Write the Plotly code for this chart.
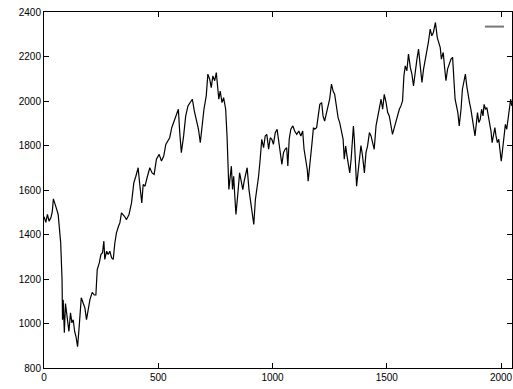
import plotly.graph_objects as go

# Series (index, value)
x_vals = [0, 8, 15, 22, 30, 36, 41, 48, 55, 62, 66, 73, 79, 81, 84, 89, 94, 99, 104, 109,
          116, 122, 128, 134, 140, 147, 154, 163, 172, 179, 186, 195, 201, 211, 220, 227, 233, 242, 249, 256,
          262, 266, 274, 281, 288, 296, 303, 310, 317, 326, 332, 339, 346,
          352, 361, 372, 383, 393, 402, 412, 419, 428, 434, 442, 451, 463, 473, 482, 492, 504, 514, 524,
          533, 543, 550, 559, 569, 579, 588, 594, 601, 611, 620, 630, 640, 649, 658, 667, 676, 684, 693, 700,
          710, 717, 725, 732, 739, 747, 754, 761, 765, 771, 779, 786, 795, 801, 805, 809, 815, 820, 825, 830,
          835, 840, 846, 852, 856, 863, 870, 876, 882, 889, 897, 903, 908, 914, 918, 925, 932, 939, 946, 953,
          961, 968, 975, 983, 990, 997, 1004, 1012, 1020, 1027, 1035, 1041, 1048,
          1055, 1062, 1067, 1073, 1080, 1089, 1097, 1106, 1115, 1124, 1132, 1138, 1146, 1152, 1156, 1162, 1167,
          1173, 1179, 1185, 1193, 1201, 1207, 1215, 1221, 1228, 1236, 1243, 1250, 1258, 1265, 1272, 1280, 1287,
          1294, 1301, 1309, 1314, 1320, 1326, 1332, 1338, 1344, 1349, 1354, 1358, 1364, 1368, 1374, 1380, 1387,
          1394, 1402, 1409, 1416,
          1424, 1431, 1438, 1445, 1453, 1460, 1467, 1475, 1482, 1489, 1497, 1504, 1511, 1518, 1525, 1533, 1540,
          1547, 1555, 1562, 1569, 1575, 1581, 1588, 1595, 1603, 1610, 1617, 1624, 1632, 1639, 1646, 1654, 1661,
          1668, 1675, 1682, 1690, 1697, 1704, 1713, 1721, 1726, 1734, 1739, 1747, 1753, 1759, 1766, 1773, 1781,
          1788, 1794, 1799, 1805, 1811, 1817, 1825, 1831, 1838, 1844, 1850, 1856, 1862, 1868, 1874, 1880, 1886,
          1891, 1897, 1903, 1909, 1915, 1921, 1926, 1932, 1938, 1944, 1950, 1956, 1961, 1967, 1973, 1978, 1984,
          1990, 1996, 2001, 2007, 2013, 2019, 2025, 2031, 2036, 2042, 2047]

y_vals = [1480, 1455, 1490, 1460, 1475, 1500, 1560, 1540, 1515, 1490, 1452, 1363, 1197, 1017, 1107, 958, 1090, 1048, 1000, 964,
          1048, 1003, 1017, 964, 941, 896, 986, 1116, 1090, 1070, 1017, 1062, 1107, 1140, 1128, 1128, 1242, 1272, 1310, 1318,
          1370, 1288, 1325, 1310, 1325, 1295, 1288, 1362, 1407, 1437, 1452, 1497, 1490,
          1482, 1467, 1490, 1542, 1632, 1662, 1700, 1625, 1542, 1625, 1617, 1655, 1700, 1677, 1670, 1738, 1760, 1730, 1753,
          1805, 1820, 1835, 1880, 1910, 1932, 1963, 1858, 1768, 1843, 1932, 1978, 1993, 2008, 1955, 1910, 1873, 1813, 1910, 1963,
          2023, 2121, 2098, 2060, 2113, 2091, 2128, 2053, 2008, 2045, 1993, 2015, 1963, 1843, 1723, 1602, 1662, 1707, 1602, 1662,
          1572, 1490, 1557, 1632, 1677, 1640, 1602, 1640, 1662, 1700, 1602, 1550, 1527, 1482, 1445, 1557, 1602, 1662, 1738, 1828,
          1790, 1843, 1850, 1783, 1835, 1828, 1805, 1858, 1873, 1813, 1753, 1715, 1768,
          1783, 1790, 1708, 1828, 1873, 1888, 1865, 1850, 1865, 1843, 1865, 1783, 1738, 1692, 1640, 1692, 1738,
          1813, 1880, 1873, 1880, 1948, 1985, 1993, 1933, 1910, 1948, 1985, 2008, 2076, 2045, 2030, 1978, 1925,
          1903, 1873, 1828, 1738, 1798, 1753, 1723, 1677, 1738, 1813, 1888, 1828, 1692, 1617, 1677, 1738, 1800,
          1753, 1677, 1768, 1798,
          1858, 1843, 1813, 1783, 1888, 1925, 1978, 2008, 1963, 2030, 1993, 1948, 1933, 1895, 1850, 1880, 1910,
          1933, 1963, 1978, 2000, 2113, 2158, 2136, 2211, 2151, 2121, 2068, 2136, 2188, 2233, 2166, 2083, 2143,
          2181, 2218, 2263, 2323, 2293, 2308, 2353, 2285, 2263, 2240, 2188, 2218, 2151, 2091, 2143, 2166, 2188,
          2196, 2083, 2008, 1978, 1948, 1888, 1963, 2053, 2083, 2121, 2068, 2023, 1993, 1963, 1918, 1873, 1843,
          1888, 1948, 1903, 1918, 1963, 1933, 1985, 1963, 1970, 1933, 1888, 1865, 1813, 1858, 1880, 1843, 1813,
          1828, 1783, 1730, 1783, 1843, 1895, 1873, 1918, 1963, 2008, 1978]

x_ticks = [0, 500, 1000, 1500, 2000]
y_ticks = [800, 1000, 1200, 1400, 1600, 1800, 2000, 2200, 2400]

fig = go.Figure()
fig.add_trace(go.Scatter(x=x_vals, y=y_vals, mode="lines",
                         line=dict(color="#000000", width=1.2), showlegend=False))

axis_common = dict(showline=True, linecolor="#000000", linewidth=1, mirror="ticks",
                   ticks="inside", ticklen=5, tickcolor="#000000", showgrid=False,
                   zeroline=False, tickfont=dict(family="Liberation Sans, Arial, sans-serif",
                                                 size=10, color="#000000"))

fig.update_xaxes(range=[0, 2048], tickvals=x_ticks, ticktext=[str(v) for v in x_ticks], **axis_common)
fig.update_yaxes(range=[800, 2400], tickvals=y_ticks, ticktext=[str(v) for v in y_ticks], **axis_common)

# empty-titled legend sample line, top right
fig.add_shape(type="line", xref="paper", yref="paper", x0=0.942, x1=0.983, y0=0.959, y1=0.959,
              line=dict(color="#777777", width=2))

fig.update_layout(width=513, height=389, margin=dict(l=44, r=1, t=12, b=21),
                  paper_bgcolor="white", plot_bgcolor="white", showlegend=False)

fig.write_html("out.html", config={"displayModeBar": False},
               post_script="document.body.style.margin='0px';")
